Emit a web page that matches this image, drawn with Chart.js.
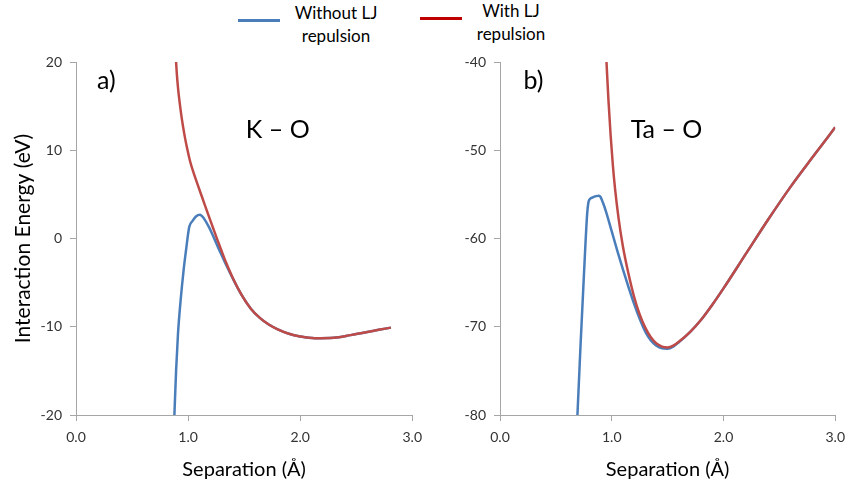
<!DOCTYPE html>
<html>
<head>
<meta charset="utf-8">
<script src="https://cdn.jsdelivr.net/npm/chart.js"></script>
<style>
  body { margin: 0; background: #fff; }
  #wrap { position: relative; width: 853px; height: 486px; overflow: hidden; font-family: Lato, 'Open Sans', sans-serif; }
  canvas { position: absolute; top: 0; }
  .sw { position: absolute; height: 3px; width: 42px; }
  .lg { position: absolute; width: 120px; text-align: center; font-size: 17px; line-height: 23px; color: #000; }
</style>
</head>
<body>
<div id="wrap">
  <div class="sw" style="left:238px;top:19px;background:#4a7ebb"></div>
  <div class="lg" style="left:276px;top:1px">Without LJ<br>repulsion</div>
  <div class="sw" style="left:420px;top:17px;background:#c00000"></div>
  <div class="lg" style="left:451px;top:-1px">With LJ<br>repulsion</div>
  <canvas id="koChart" width="430" height="486" style="left:0"></canvas>
  <canvas id="taoChart" width="423" height="486" style="left:430px"></canvas>
</div>
<script>
// K - O pair, panel a)
const koWithoutX = [0.878, 0.893, 0.91, 0.935, 0.96, 0.982, 1.0, 1.011, 1.04, 1.07, 1.106, 1.14, 1.19, 1.23, 1.278, 1.30, 1.34, 1.40, 1.48, 1.56, 1.64, 1.72, 1.80, 1.90, 2.00, 2.13, 2.30, 2.45, 2.60, 2.70, 2.81];
const koWithoutY = [-20, -15, -10.8, -6.8, -3.6, -1.3, 0.5, 1.35, 2.0, 2.5, 2.7, 2.3, 1.2, 0.1, -1.3, -1.9, -3.0, -4.55, -6.45, -7.95, -9.0, -9.75, -10.3, -10.8, -11.1, -11.3, -11.25, -10.95, -10.6, -10.35, -10.1];
const koWithX = [0.893, 0.90, 0.91, 0.925, 0.945, 0.967, 0.99, 1.015, 1.04, 1.08, 1.13, 1.18, 1.22, 1.26, 1.30, 1.34, 1.40, 1.48, 1.56, 1.64, 1.72, 1.80, 1.90, 2.00, 2.13, 2.30, 2.45, 2.60, 2.70, 2.81];
const koWithY = [20, 18.6, 17.1, 15.4, 13.5, 11.8, 10.3, 8.9, 7.8, 6.3, 4.5, 2.7, 1.3, -0.1, -1.45, -2.75, -4.5, -6.45, -7.95, -9.0, -9.75, -10.3, -10.8, -11.1, -11.3, -11.25, -10.95, -10.6, -10.35, -10.1];

// Ta - O pair, panel b)
const taoWithoutX = [0.693, 0.70, 0.72, 0.75, 0.78, 0.79, 0.80, 0.83, 0.86, 0.885, 0.90, 0.92, 0.95, 1.00, 1.05, 1.10, 1.15, 1.20, 1.25, 1.30, 1.35, 1.40, 1.45, 1.50, 1.55, 1.60, 1.70, 1.80, 1.90, 2.00, 2.20, 2.40, 2.60, 2.80, 3.00];
const taoWithoutY = [-80, -78, -72.3, -64.4, -57.2, -56.0, -55.6, -55.35, -55.2, -55.15, -55.3, -55.9, -57.0, -59.2, -61.4, -63.5, -65.5, -67.4, -69.1, -70.55, -71.55, -72.15, -72.45, -72.5, -72.25, -71.75, -70.6, -69.2, -67.5, -65.65, -61.75, -57.85, -54.15, -50.75, -47.4];
const taoWithX = [0.953, 0.97, 0.99, 1.01, 1.03, 1.06, 1.10, 1.15, 1.20, 1.25, 1.30, 1.35, 1.40, 1.45, 1.50, 1.55, 1.60, 1.70, 1.80, 1.90, 2.00, 2.20, 2.40, 2.60, 2.80, 3.00];
const taoWithY = [-40, -44.2, -48.3, -51.7, -54.4, -57.6, -60.9, -64.0, -66.6, -68.6, -70.1, -71.2, -71.9, -72.25, -72.35, -72.15, -71.7, -70.6, -69.2, -67.5, -65.65, -61.75, -57.85, -54.15, -50.75, -47.4];

const xTicks = [0, 1, 2, 3];
const koRange = [-20, 20];
const taoRange = [-80, -40];

// panel labels in data coordinates
const koNotes = [{ text: 'a)', x: 0.27, y: 17.9 }, { text: 'K \u2013 O', x: 1.80, y: 12.3 }];
const taoNotes = [{ text: 'b)', x: 0.30, y: -42.1 }, { text: 'Ta \u2013 O', x: 1.49, y: -47.7 }];

const BLUE = '#4a7ebb';
const RED = '#be4b48';
const AXIS = '#a6a6a6';
const FONT = 'Lato, "Open Sans", sans-serif';

function toPoints(xs, ys) {
  return xs.map((x, i) => ({ x, y: ys[i] }));
}

const notesPlugin = {
  id: 'notes',
  afterDatasetsDraw(chart, args, opts) {
    const { ctx, scales } = chart;
    ctx.save();
    ctx.font = '25px ' + FONT;
    ctx.fillStyle = '#000';
    ctx.textAlign = 'center';
    ctx.textBaseline = 'middle';
    for (const n of opts.items || []) {
      ctx.fillText(n.text, scales.x.getPixelForValue(n.x), scales.y.getPixelForValue(n.y));
    }
    ctx.restore();
  },
};

function makeChart(id, cfg) {
  const series = (data, color, label) => ({
    label,
    data,
    borderColor: color,
    backgroundColor: color,
    borderWidth: 2.5,
    pointRadius: 0,
    fill: false,
    cubicInterpolationMode: 'monotone',
  });
  return new Chart(document.getElementById(id), {
    type: 'line',
    data: {
      // first dataset is painted last, so red sits over blue like the original
      datasets: [
        series(cfg.with, RED, 'With LJ repulsion'),
        series(cfg.without, BLUE, 'Without LJ repulsion'),
      ],
    },
    options: {
      responsive: false,
      animation: false,
      devicePixelRatio: 1,
      layout: { padding: { top: 62, right: cfg.padRight, left: 0, bottom: 0 } },
      plugins: {
        legend: { display: false },
        tooltip: { enabled: false },
        notes: { items: cfg.notes },
      },
      scales: {
        x: {
          type: 'linear',
          min: 0,
          max: 3,
          afterBuildTicks: (s) => { s.ticks = xTicks.map((v) => ({ value: v })); },
          afterFit: (s) => { s.height = 71; },
          grid: { drawOnChartArea: false, tickLength: 6, color: AXIS },
          border: { color: AXIS, width: 1 },
          ticks: { padding: 8, color: '#333', font: { family: FONT, size: 14 }, callback: (v) => v.toFixed(1) },
          title: { display: true, text: 'Separation (\u00c5)', color: '#000', font: { family: FONT, size: 20 }, padding: { top: 0, bottom: 4 } },
        },
        y: {
          min: cfg.range[0],
          max: cfg.range[1],
          afterFit: (s) => { s.width = cfg.yWidth; },
          grid: { drawOnChartArea: false, tickLength: 6, color: AXIS },
          border: { color: AXIS, width: 1 },
          ticks: { stepSize: 10, padding: 8, color: '#333', font: { family: FONT, size: 14 } },
          title: { display: !!cfg.yTitle, text: cfg.yTitle || '', color: '#000', font: { family: FONT, size: 21 }, padding: { top: 11, bottom: 0 } },
        },
      },
    },
    plugins: [notesPlugin],
  });
}

makeChart('koChart', {
  without: toPoints(koWithoutX, koWithoutY),
  with: toPoints(koWithX, koWithY),
  range: koRange,
  notes: koNotes,
  yWidth: 76,
  padRight: 16,
  yTitle: 'Interaction Energy (eV)',
});

makeChart('taoChart', {
  without: toPoints(taoWithoutX, taoWithoutY),
  with: toPoints(taoWithX, taoWithY),
  range: taoRange,
  notes: taoNotes,
  yWidth: 70,
  padRight: 14,
});
</script>
</body>
</html>
